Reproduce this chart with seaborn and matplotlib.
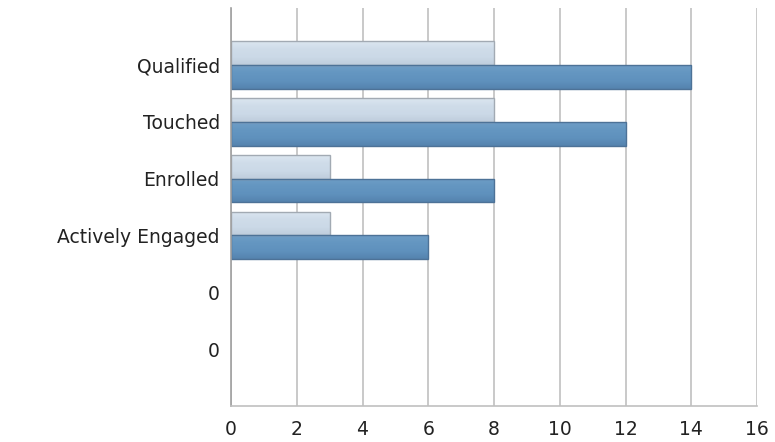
import pandas as pd
import numpy as np
import matplotlib
matplotlib.use("Agg")
import matplotlib.pyplot as plt
import matplotlib.colors as mcolors
import seaborn as sns

# data
categories = ["Qualified", "Touched", "Enrolled", "Actively Engaged", "0", "0"]
series_light = [8, 8, 3, 3, 0, 0]
series_dark = [14, 12, 8, 6, 0, 0]
x_ticks = [0, 2, 4, 6, 8, 10, 12, 14, 16]

rows = []
for i, (a, b) in enumerate(zip(series_light, series_dark)):
    rows.append({"pos": i, "series": "A", "value": a})
    rows.append({"pos": i, "series": "B", "value": b})
df = pd.DataFrame(rows)

sns.set_theme(style="white")
plt.rcParams['font.family'] = ['DejaVu Sans']

fig = plt.figure(figsize=(7.75, 4.42), dpi=100)
ax = fig.add_axes([0.298, 0.0814, 0.679, 0.9006])

sns.barplot(data=df, x="value", y="pos", hue="series", orient="h",
            palette={"A": "#cddbe9", "B": "#6294bf"}, width=0.84,
            ax=ax, legend=False, linewidth=1.0, saturation=1)

ax.set_xlim(0, 16)
ax.set_ylim(len(categories), -1)

# subtle vertical gradient on each bar, like the original's glossy look
grads = {
    "A": (["#dbe6f0", "#cfdce9", "#cbd9e7", "#bfcddc"], "#a2aab3"),
    "B": (["#6e9dc6", "#6496c1", "#5f91bd", "#5583ae"], "#4d7297"),
}
n = len(categories)
for k, patch in enumerate(ax.patches):
    key = "A" if k < n else "B"
    cols, edge = grads[key]
    w = patch.get_width()
    if w <= 0:
        patch.set_visible(False)
        continue
    patch.set_edgecolor(edge)
    x0, y0 = patch.get_x(), patch.get_y()
    h = patch.get_height()
    cmap = mcolors.LinearSegmentedColormap.from_list("g", cols)
    grad = np.linspace(0, 1, 64).reshape(-1, 1)
    im = ax.imshow(grad, cmap=cmap, aspect="auto", origin="upper",
                   extent=(x0, x0 + w, y0 + h, y0), zorder=patch.get_zorder())
    im.set_clip_path(patch)
    patch.set_facecolor("none")
    patch.set_zorder(patch.get_zorder() + 0.1)

ax.set_xlim(0, 16)
ax.set_ylim(len(categories), -1)
ax.set_xticks(x_ticks)
ax.set_xticklabels([str(t) for t in x_ticks])
ax.set_yticks(range(len(categories)))
ax.set_yticklabels(categories)
ax.set_xlabel("")
ax.set_ylabel("")
ax.set_axisbelow(True)
ax.xaxis.grid(True, color="#c0c0c0", linewidth=1.2)
ax.yaxis.grid(False)
for s in ["top", "right"]:
    ax.spines[s].set_visible(False)
ax.spines["left"].set_color("#a0a0a0")
ax.spines["bottom"].set_color("#c0c0c0")
ax.spines["left"].set_linewidth(1.2)
ax.spines["bottom"].set_linewidth(1.2)
ax.tick_params(axis="both", length=0, labelsize=13.5, colors="#222222")
ax.tick_params(axis="x", pad=10)
ax.tick_params(axis="y", pad=8)

fig.savefig("out.png", dpi=100)
